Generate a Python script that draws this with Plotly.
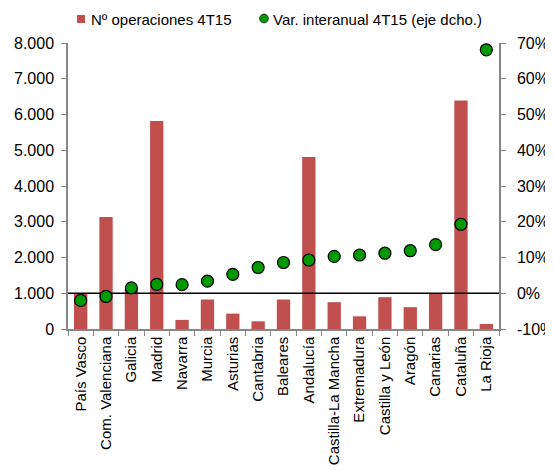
import plotly.graph_objects as go

regiones = ["País Vasco", "Com. Valenciana", "Galicia", "Madrid", "Navarra", "Murcia",
            "Asturias", "Cantabria", "Baleares", "Andalucía", "Castilla-La Mancha",
            "Extremadura", "Castilla y León", "Aragón", "Canarias", "Cataluña", "La Rioja"]
operaciones = [985, 3130, 1100, 5820, 255, 825, 430, 215, 825, 4810, 750, 355, 890, 610, 990, 6390, 140]
var_interanual = [-2.0, -0.9, 1.5, 2.5, 2.4, 3.4, 5.3, 7.2, 8.6, 9.3, 10.3, 10.7, 11.2, 11.9, 13.6, 19.3, 68.1]

left_ticks = [0, 1000, 2000, 3000, 4000, 5000, 6000, 7000, 8000]
left_labels = ["0", "1.000", "2.000", "3.000", "4.000", "5.000", "6.000", "7.000", "8.000"]
right_ticks = [-10, 0, 10, 20, 30, 40, 50, 60, 70]
right_labels = ["-10%", "0%", "10%", "20%", "30%", "40%", "50%", "60%", "70%"]

serie_barras = "Nº operaciones 4T15"
serie_puntos = "Var. interanual 4T15 (eje dcho.)"

BAR_COLOR = "#C0504D"
DOT_COLOR = "#009900"
AXIS_COLOR = "#868686"
FONT = "Liberation Sans, Arial, sans-serif"

# page body has an 8px default margin: size the figure so it fills the 553x470 window
PAGE_OFF = 8
FIG_W, FIG_H = 553 - PAGE_OFF, 470 - PAGE_OFF
PLOT_L, PLOT_T, PLOT_W, PLOT_H = 60, 35, 431, 286

n = len(regiones)
cat_range = [-0.5, n - 0.5]

fig = go.Figure()
# bars (primary axis)
fig.add_trace(go.Bar(x=regiones, y=operaciones, name=serie_barras, xaxis="x", yaxis="y",
                     marker=dict(color=BAR_COLOR, line=dict(width=0)), showlegend=False))
# 0% reference line on the secondary scale, drawn above bars but below dots
fig.add_trace(go.Scatter(x=[0, 1], y=[right_ticks[1], right_ticks[1]], xaxis="x2", yaxis="y2",
                         mode="lines", line=dict(color="black", width=1.5),
                         showlegend=False, hoverinfo="skip"))
# dots (secondary scale)
fig.add_trace(go.Scatter(x=regiones, y=var_interanual, name=serie_puntos, xaxis="x3", yaxis="y3",
                         mode="markers", showlegend=False,
                         marker=dict(color=DOT_COLOR, size=12, line=dict(color="black", width=1.2))))


# custom legend (top), positions in window pixels converted to paper coords
def px_x(px):
    return (px - PAGE_OFF - PLOT_L) / PLOT_W


def px_y(py):
    return (PAGE_OFF + PLOT_T + PLOT_H - py) / PLOT_H


fig.add_shape(type="rect", xref="paper", yref="paper",
              x0=px_x(77), x1=px_x(85), y0=px_y(23), y1=px_y(15),
              fillcolor=BAR_COLOR, line=dict(width=0))
fig.add_shape(type="circle", xref="paper", yref="paper",
              x0=px_x(259.6), x1=px_x(268.4), y0=px_y(22.9), y1=px_y(14.1),
              fillcolor=DOT_COLOR, line=dict(color="#1a1a1a", width=0.8))
fig.add_annotation(text=serie_barras, xref="paper", yref="paper", x=px_x(88.5), y=px_y(19.5),
                   xanchor="left", yanchor="middle", showarrow=False,
                   font=dict(family=FONT, size=15, color="black"))
fig.add_annotation(text=serie_puntos, xref="paper", yref="paper", x=px_x(270.5), y=px_y(19.5),
                   xanchor="left", yanchor="middle", showarrow=False,
                   font=dict(family=FONT, size=15, color="black"))

fig.update_layout(
    width=FIG_W, height=FIG_H,
    margin=dict(l=PLOT_L, r=FIG_W - PLOT_L - PLOT_W, t=PLOT_T, b=FIG_H - PLOT_T - PLOT_H,
                autoexpand=False),
    plot_bgcolor="white", paper_bgcolor="white",
    font=dict(family=FONT, size=15, color="black"),
    bargap=0.475,
    showlegend=False,
    xaxis=dict(type="category", categoryorder="array", categoryarray=regiones, range=cat_range,
               tickangle=-90, showline=True, linecolor=AXIS_COLOR, linewidth=1.5,
               ticks="outside", tickson="boundaries", ticklen=5, tickcolor=AXIS_COLOR,
               showgrid=False, zeroline=False, tickfont=dict(size=15, color="black")),
    xaxis2=dict(overlaying="x", range=[0, 1], visible=False, showgrid=False, zeroline=False),
    xaxis3=dict(overlaying="x", type="category", categoryorder="array", categoryarray=regiones,
                range=cat_range, visible=False, showgrid=False, zeroline=False),
    yaxis=dict(range=[0, 8000], tickvals=left_ticks, ticktext=left_labels,
               showline=True, linecolor=AXIS_COLOR, linewidth=1.5, ticks="outside",
               ticklen=5, tickcolor=AXIS_COLOR, showgrid=False, zeroline=False,
               ticklabelstandoff=4, tickfont=dict(size=16, color="black")),
    yaxis2=dict(range=[-10, 70], tickvals=right_ticks, ticktext=right_labels, overlaying="y",
                side="right", anchor="x2", showline=True, linecolor=AXIS_COLOR, linewidth=1.5,
                ticks="outside", ticklen=5, tickcolor=AXIS_COLOR, showgrid=False, zeroline=False,
                ticklabelstandoff=8, tickfont=dict(size=16, color="black")),
    yaxis3=dict(range=[-10, 70], overlaying="y", visible=False, showgrid=False, zeroline=False),
)
fig.write_html("out.html")
